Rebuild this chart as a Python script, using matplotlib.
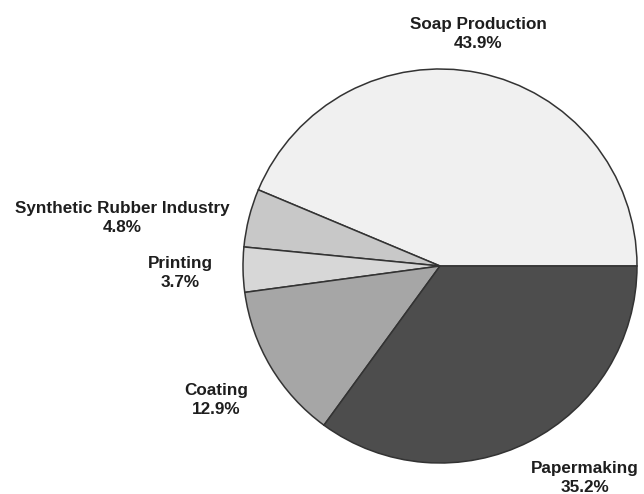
import matplotlib.pyplot as plt

# industry shares (percent)
sectors = ['Soap Production', 'Synthetic Rubber Industry', 'Printing', 'Coating', 'Papermaking']
shares = [43.9, 4.8, 3.7, 12.9, 35.2]
colors = ['#f0f0f0', '#c8c8c8', '#d7d7d7', '#a6a6a6', '#4d4d4d']
# label centres in pixels (x, y from top)
label_pos = [(478, 34), (122, 218), (180, 273), (216, 400), (585, 478)]

plt.rcParams['font.family'] = ['Liberation Sans', 'DejaVu Sans']

W, H = 644, 494
fig = plt.figure(figsize=(W / 100, H / 100), dpi=100)
ax = fig.add_axes([0, 0, 1, 1])

ax.pie(shares, colors=colors, startangle=0, counterclock=True,
       center=(440, H - 266), radius=197,
       wedgeprops=dict(edgecolor='#333333', linewidth=1.1))

for name, val, (x, y) in zip(sectors, shares, label_pos):
    ax.text(x, H - y, '{}\n{:.1f}%'.format(name, val), ha='center', va='center',
            fontsize=12.3, fontweight='bold', color='#1e1e1e', linespacing=1.4)

ax.set_xlim(0, W)
ax.set_ylim(0, H)
ax.set_aspect('equal')
ax.axis('off')

fig.savefig('out.png', dpi=100)
